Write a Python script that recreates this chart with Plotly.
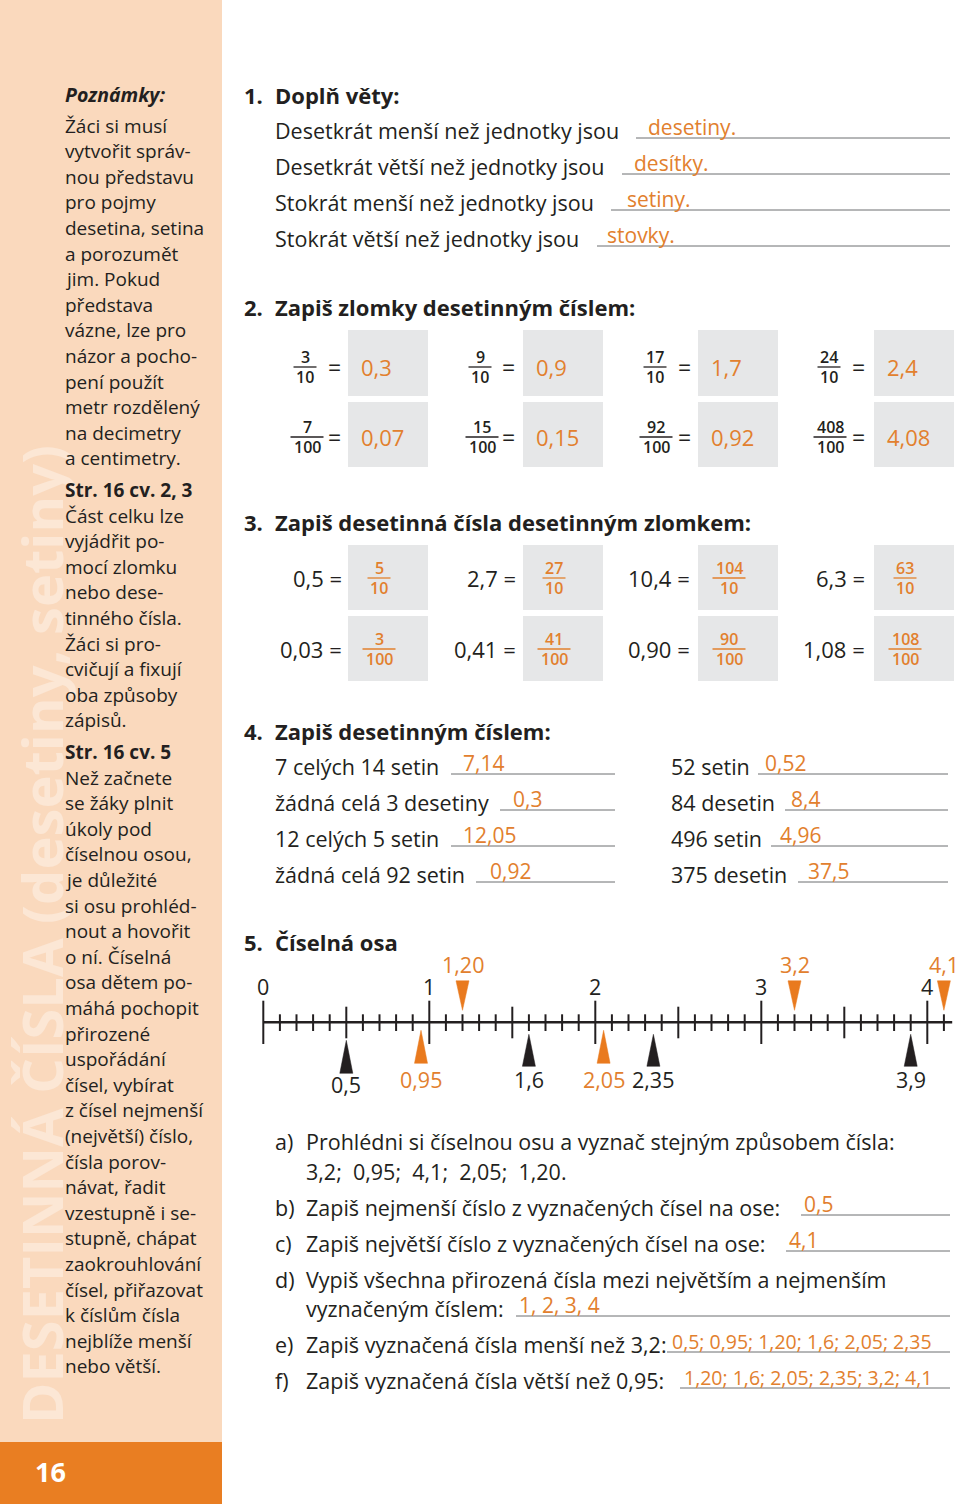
import plotly.graph_objects as go

# ---------------- data ----------------
notes_title = "Poznámky:"
notes_lines = [
    ("Žáci si musí", 0), ("vytvořit správ-", 0), ("nou představu", 0), ("pro pojmy", 0),
    ("desetina, setina", 0), ("a porozumět", 0), ("jim. Pokud", 0), ("představa", 0),
    ("vázne, lze pro", 0), ("názor a pocho-", 0), ("pení použít", 0), ("metr rozdělený", 0),
    ("na decimetry", 0), ("a centimetry.", 0),
    ("Str. 16 cv. 2, 3", 1),
    ("Část celku lze", 0), ("vyjádřit po-", 0), ("mocí zlomku", 0), ("nebo dese-", 0),
    ("tinného čísla.", 0), ("Žáci si pro-", 0), ("cvičují a fixují", 0), ("oba způsoby", 0),
    ("zápisů.", 0),
    ("Str. 16 cv. 5", 1),
    ("Než začnete", 0), ("se žáky plnit", 0), ("úkoly pod", 0), ("číselnou osou,", 0),
    ("je důležité", 0), ("si osu prohléd-", 0), ("nout a hovořit", 0), ("o ní. Číselná", 0),
    ("osa dětem po-", 0), ("máhá pochopit", 0), ("přirozené", 0), ("uspořádání", 0),
    ("čísel, vybírat", 0), ("z čísel nejmenší", 0), ("(největší) číslo,", 0), ("čísla porov-", 0),
    ("návat, řadit", 0), ("vzestupně i se-", 0), ("stupně, chápat", 0), ("zaokrouhlování", 0),
    ("čísel, přiřazovat", 0), ("k číslům čísla", 0), ("nejblíže menší", 0), ("nebo větší.", 0),
]
watermark = "DESETINNÁ ČÍSLA (desetiny, setiny)"
page_number = "16"

headers = ["1.", "Doplň věty:", "2.", "Zapiš zlomky desetinným číslem:", "3.",
           "Zapiš desetinná čísla desetinným zlomkem:", "4.", "Zapiš desetinným číslem:",
           "5.", "Číselná osa"]

s1_prompts = ["Desetkrát menší než jednotky jsou", "Desetkrát větší než jednotky jsou",
              "Stokrát menší než jednotky jsou", "Stokrát větší než jednotky jsou"]
s1_answers = ["desetiny.", "desítky.", "setiny.", "stovky."]

s2_num = [3, 9, 17, 24, 7, 15, 92, 408]
s2_den = [10, 10, 10, 10, 100, 100, 100, 100]
s2_ans = ["0,3", "0,9", "1,7", "2,4", "0,07", "0,15", "0,92", "4,08"]

s3_dec = ["0,5 =", "2,7 =", "10,4 =", "6,3 =", "0,03 =", "0,41 =", "0,90 =", "1,08 ="]
s3_num = [5, 27, 104, 63, 3, 41, 90, 108]
s3_den = [10, 10, 10, 10, 100, 100, 100, 100]

s4_left = ["7 celých 14 setin", "žádná celá 3 desetiny", "12 celých 5 setin", "žádná celá 92 setin"]
s4_left_ans = ["7,14", "0,3", "12,05", "0,92"]
s4_right = ["52 setin", "84 desetin", "496 setin", "375 desetin"]
s4_right_ans = ["0,52", "8,4", "4,96", "37,5"]

s5_tasks = [
    ("a)", "Prohlédni si číselnou osu a vyznač stejným způsobem čísla:", None),
    ("", "3,2;  0,95;  4,1;  2,05;  1,20.", None),
    ("b)", "Zapiš nejmenší číslo z vyznačených čísel na ose:", "0,5"),
    ("c)", "Zapiš největší číslo z vyznačených čísel na ose:", "4,1"),
    ("d)", "Vypiš všechna přirozená čísla mezi největším a nejmenším", None),
    ("", "vyznačeným číslem:", "1, 2, 3, 4"),
    ("e)", "Zapiš vyznačená čísla menší než 3,2:", "0,5; 0,95; 1,20; 1,6; 2,05; 2,35"),
    ("f)", "Zapiš vyznačená čísla větší než 0,95:", "1,20; 1,6; 2,05; 2,35; 3,2; 4,1"),
]

# number line
axis_end = 4.15
integer_ticks = [0, 1, 2, 3, 4]
integer_labels = ["0", "1", "2", "3", "4"]
half_ticks = [0.5, 1.5, 2.5, 3.5]
minor_ticks = [round(i / 10, 1) for i in range(1, 42) if i % 5 != 0]
black_below = [0.5, 1.6, 2.35, 3.9]
black_below_lbl = ["0,5", "1,6", "2,35", "3,9"]
orange_below = [0.95, 2.05]
orange_below_lbl = ["0,95", "2,05"]
orange_above = [1.20, 3.2, 4.1]
orange_above_lbl = ["1,20", "3,2", "4,1"]

# ---------------- style ----------------
FONT = "Open Sans"
DARK = "#231F20"
OTXT = "#E2802E"
ORANGE = "#E97A1E"
PEACH = "#FAD9BD"
BOX = "#E6E7E8"
RULE = "#6D6E71"
BODY = 21.5
ANS = 21

ann, shapes = [], []


def T(x, y, s, size=BODY, color=DARK, weight=400, xa="left", style="normal",
      xref="x", yref="y", angle=0):
    ann.append(dict(x=x, y=y, xref=xref, yref=yref, text=s, showarrow=False,
                    xanchor=xa, yanchor="middle", textangle=angle, borderpad=0,
                    font=dict(family=FONT, size=size, color=color, weight=weight, style=style)))


def R(x0, y0, x1, y1, fill):
    shapes.append(dict(type="rect", xref="x", yref="y", x0=x0, y0=y0, x1=x1, y1=y1,
                       fillcolor=fill, line=dict(width=0), layer="below"))


def L(x0, y0, x1, y1, color=RULE, w=1):
    shapes.append(dict(type="line", xref="x", yref="y", x0=x0, y0=y0, x1=x1, y1=y1,
                       line=dict(color=color, width=w), layer="above"))


def frac(cx, cy, num, den, color, size=16, gap=10):
    T(cx, cy - gap, str(num), size=size, color=color, weight=600, xa="center")
    T(cx, cy + gap, str(den), size=size, color=color, weight=600, xa="center")
    digits = max(len(str(num)), len(str(den)))
    half = digits * 5 + 1.5
    L(cx - half, cy, cx + half, cy, color=color, w=1.3)


# ---------------- sidebar ----------------
R(0, 0, 222, 1442, PEACH)
R(0, 1442, 222, 1504, "#E97E22")
T(41, 935, "<b>" + watermark + "</b>", size=56, color="rgba(255,255,255,0.36)",
  xa="center", angle=-90)
T(34, 1471, page_number, size=27, color="white", weight=700)

T(64, 94, notes_title, size=19.5, weight=700, style="italic")
y = 94 + 6
for s, b in notes_lines:
    y += 25.6 + (6 if b else 0)
    T(64, y, s, size=19, weight=700 if b else 400)

# ---------------- headers ----------------
hdr_y = [95, 307, 522, 731, 942]
for i, yy in enumerate(hdr_y):
    T(243, yy, headers[2 * i], size=22, weight=700)
    T(274, yy, headers[2 * i + 1], size=22, weight=700)

# ---------------- section 1 ----------------
s1_y = [130, 166, 202, 238]
s1_ul = [636, 622, 611, 597]
s1_ax = [647, 633, 626, 606]
for i in range(4):
    T(274, s1_y[i], s1_prompts[i])
    L(s1_ul[i], s1_y[i] + 8, 950, s1_y[i] + 8)
    T(s1_ax[i], s1_y[i] - 3, s1_answers[i], size=ANS, color=OTXT)

# ---------------- section 2 ----------------
box_x = [348, 523, 698, 874]
box_w = 80
s2_rows = [(330, 396, 367), (402, 467, 437)]
frac_cx = [[305, 480, 655, 829], [307, 482, 656, 830]]
eq_x = [334, 508, 684, 858]
for r, (y0, y1, cy) in enumerate(s2_rows):
    for c in range(4):
        k = r * 4 + c
        R(box_x[c], y0, box_x[c] + box_w, y1, BOX)
        frac(frac_cx[r][c], cy, s2_num[k], s2_den[k], DARK)
        T(eq_x[c], cy, "=", size=23, xa="center")
        T(box_x[c] + 12, cy, s2_ans[k], size=22, color=OTXT)

# ---------------- section 3 ----------------
s3_rows = [(545, 610, 578), (616, 681, 649)]
lbl_right = [343, 517, 691, 866]
for r, (y0, y1, cy) in enumerate(s3_rows):
    for c in range(4):
        k = r * 4 + c
        R(box_x[c], y0, box_x[c] + box_w, y1, BOX)
        T(lbl_right[c], cy, s3_dec[k], size=22, xa="right")
        frac(box_x[c] + 31, cy, s3_num[k], s3_den[k], OTXT)

# ---------------- section 4 ----------------
s4_y = [766, 802, 838, 874]
s4_lul = [451, 500, 451, 476]
s4_lax = [462, 512, 462, 489]
s4_rul = [758, 785, 771, 798]
s4_rax = [764, 790, 779, 807]
for i in range(4):
    T(274, s4_y[i], s4_left[i])
    L(s4_lul[i], s4_y[i] + 8, 615, s4_y[i] + 8)
    T(s4_lax[i], s4_y[i] - 3, s4_left_ans[i], size=ANS, color=OTXT)
    T(670, s4_y[i], s4_right[i])
    L(s4_rul[i], s4_y[i] + 8, 948, s4_y[i] + 8)
    T(s4_rax[i], s4_y[i] - 3, s4_right_ans[i], size=ANS, color=OTXT)

# ---------------- section 5 tasks ----------------
t_y = [1141, 1171, 1207, 1243, 1279, 1308, 1344, 1380]
t_ul = [None, None, 801, 786, None, 516, 667, 680]
t_ax = [None, None, 803, 788, None, 518, 671, 683]
t_as = [None, None, ANS, ANS, None, ANS, 19.5, 19.5]
for i, (lab, s, a) in enumerate(s5_tasks):
    if lab:
        T(274, t_y[i], lab)
    T(305, t_y[i], s)
    if a is not None:
        L(t_ul[i], t_y[i] + 8, 950, t_y[i] + 8)
        T(t_ax[i], t_y[i] - 3, a, size=t_as[i], color=OTXT)

# ---------------- number line (x2 / y2) ----------------
X0PX, UNIT, AXPX = 263.3, 166.0, 1022.3
x2_range = [-X0PX / UNIT, (960 - X0PX) / UNIT]
y2_range = [1504 - AXPX, -AXPX]

traces = [go.Scatter(x=[0, 960], y=[0, 1504], mode="markers", marker=dict(opacity=0),
                     hoverinfo="skip")]


def seg(vals, a, b):
    xs, ys = [], []
    for v in vals:
        xs += [v, v, None]
        ys += [a, b, None]
    return xs, ys


traces.append(go.Scatter(x=[0, axis_end], y=[0, 0], mode="lines", xaxis="x2", yaxis="y2",
                         line=dict(color=DARK, width=2.5), hoverinfo="skip"))
for vals, a, b in [(integer_ticks, -21.6, 21.7), (half_ticks, -15.6, 16), (minor_ticks, -8, 8.7)]:
    xs, ys = seg(vals, a, b)
    traces.append(go.Scatter(x=xs, y=ys, mode="lines", xaxis="x2", yaxis="y2",
                             line=dict(color=DARK, width=2), hoverinfo="skip"))

HW = 6.5 / UNIT


def tri(vals, apex, base, color):
    xs, ys = [], []
    for v in vals:
        a = apex(v) if callable(apex) else apex
        bb = base(v) if callable(base) else base
        xs += [v - HW, v + HW, v, v - HW, None]
        ys += [bb, bb, a, bb, None]
    traces.append(go.Scatter(x=xs, y=ys, mode="lines", fill="toself", fillcolor=color,
                             line=dict(color=color, width=0.5), xaxis="x2", yaxis="y2",
                             hoverinfo="skip"))


def on_half(v):
    return abs(v * 2 - round(v * 2)) < 1e-9


tri(black_below, lambda v: 18 if on_half(v) else 12, lambda v: 51 if on_half(v) else 44, DARK)
tri(orange_below, 8, 41, ORANGE)
tri(orange_above, -12, -41.5, ORANGE)

for v, s in zip(integer_ticks, integer_labels):
    T(v, -36, s, size=21.5, xa="center", xref="x2", yref="y2")
for v, s in zip(black_below, black_below_lbl):
    T(v, 62 if on_half(v) else 57, s, size=21.5, xa="center", xref="x2", yref="y2")
for v, s in zip(orange_below, orange_below_lbl):
    T(v, 57, s, size=21.5, color=OTXT, xa="center", xref="x2", yref="y2")
for v, s in zip(orange_above, orange_above_lbl):
    T(v, -58, s, size=21.5, color=OTXT, xa="center", xref="x2", yref="y2")

fig = go.Figure(traces)
fig.update_layout(
    width=960, height=1504, margin=dict(l=0, r=0, t=0, b=0),
    paper_bgcolor="white", plot_bgcolor="rgba(0,0,0,0)", showlegend=False,
    xaxis=dict(range=[0, 960], domain=[0, 1], visible=False),
    yaxis=dict(range=[1504, 0], domain=[0, 1], visible=False),
    xaxis2=dict(range=x2_range, domain=[0, 1], visible=False, anchor="y2", overlaying="x"),
    yaxis2=dict(range=y2_range, domain=[0, 1], visible=False, anchor="x2", overlaying="y"),
    annotations=ann, shapes=shapes,
)
fig.write_html("out.html", config={"displayModeBar": False},
               post_script="document.body.style.margin='0';")
